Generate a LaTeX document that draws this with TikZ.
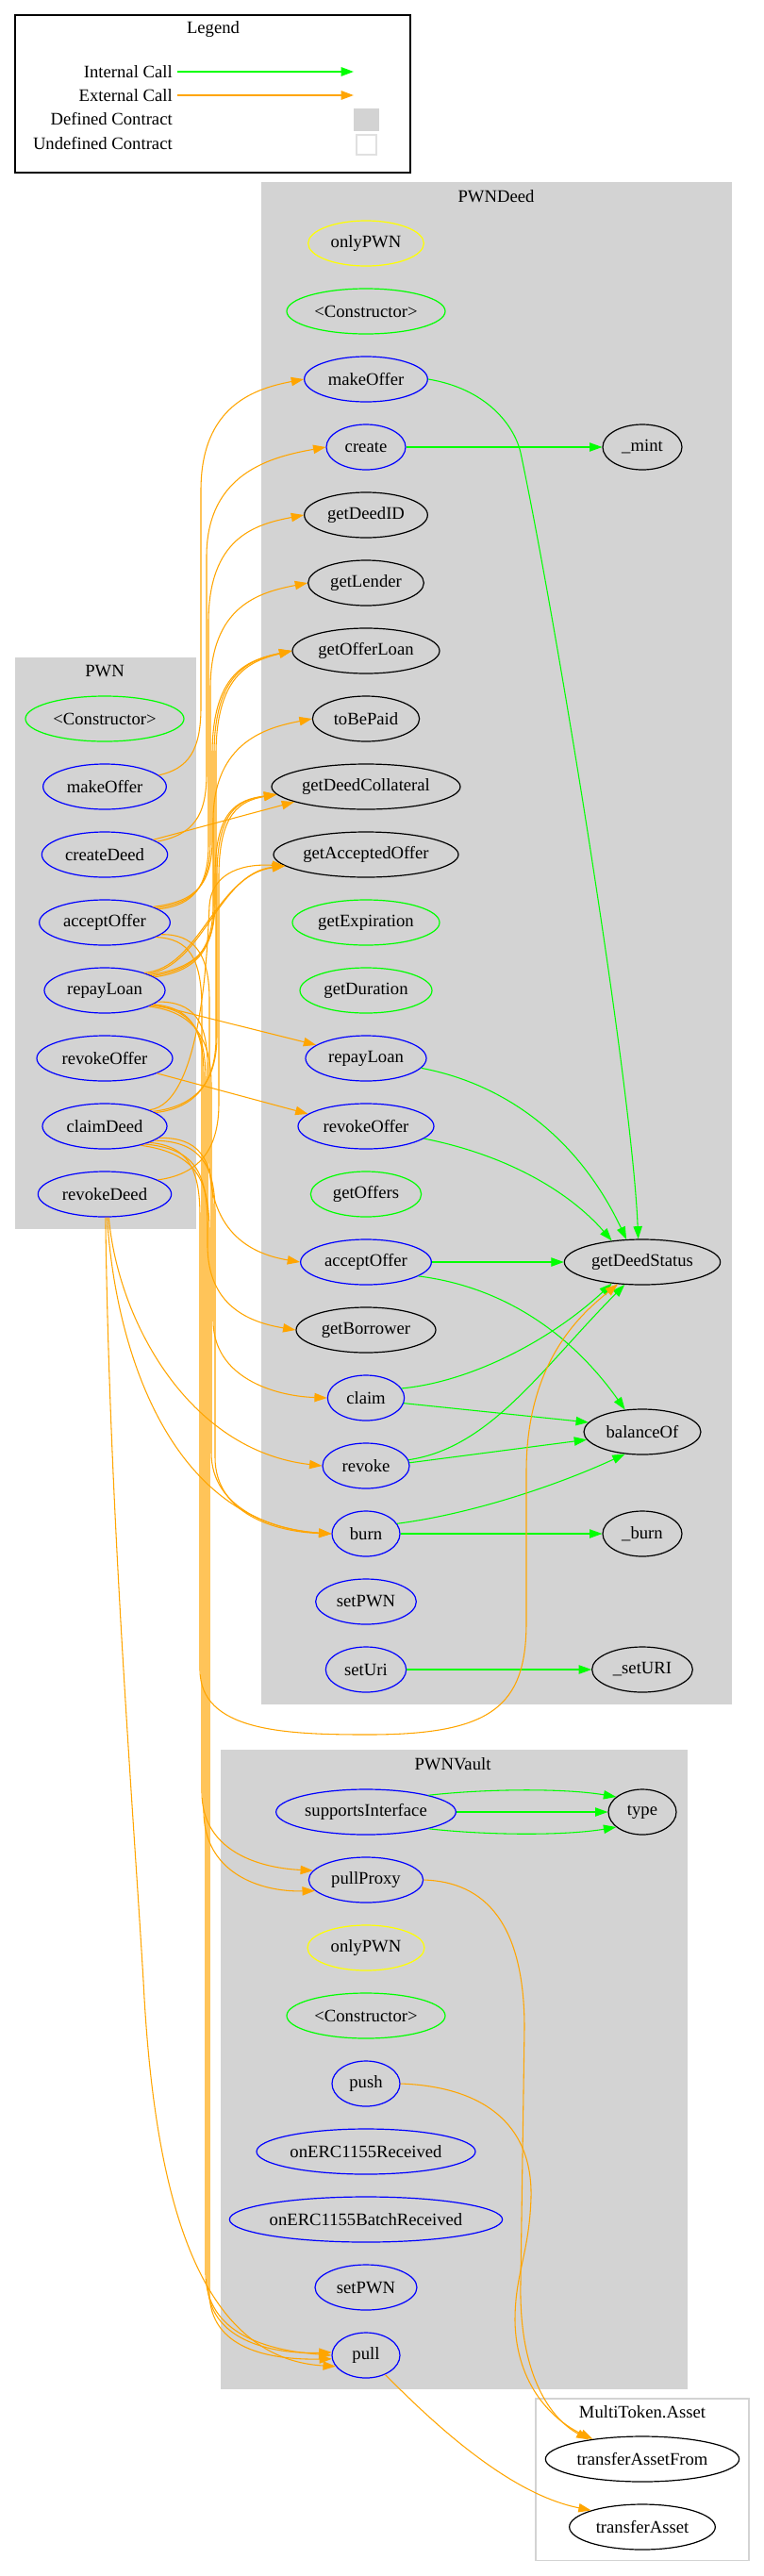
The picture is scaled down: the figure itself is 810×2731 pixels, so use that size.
\documentclass[tikz,border=0pt]{standalone}
\usepackage{fontspec}
\setmainfont{Liberation Serif}
\usepackage{tikz}
\usetikzlibrary{shapes.geometric,arrows.meta}
\definecolor{callgreen}{HTML}{00FF00}
\definecolor{callorange}{HTML}{FFA500}
\definecolor{fnblue}{HTML}{0000FF}
\definecolor{modyellow}{HTML}{FFFF00}
\definecolor{clustergray}{HTML}{D3D3D3}

\begin{document}
\begin{tikzpicture}[x=0.75pt, y=-0.75pt,
  fn/.style={ellipse, draw=#1, line width=0.9pt, minimum height=36pt, inner sep=0pt, font=\fontsize{14}{16}\selectfont},
  lbl/.style={font=\fontsize{14}{16}\selectfont, inner sep=0pt},
  intcall/.style={-{Triangle[length=10pt,width=7pt]}, draw=callgreen, line width=0.8pt},
  extcall/.style={-{Triangle[length=10pt,width=7pt]}, draw=callorange, line width=0.8pt}]
  \useasboundingbox (0,0) rectangle (810,2731);

  % legend
  \draw[line width=1pt] (16,16) rectangle (435,183);
  \node[lbl] (lgTitle) at (226,31) {Legend};
  \node[lbl, anchor=east] (lgInt) at (183,76) {Internal Call};
  \node[lbl, anchor=east] (lgExt) at (183,101) {External Call};
  \node[lbl, anchor=east] (lgDef) at (183,126) {Defined Contract};
  \node[lbl, anchor=east] (lgUndef) at (183,152) {Undefined Contract};
  \coordinate (lgIntEnd) at (375,76);
  \coordinate (lgExtEnd) at (375,101);
  \draw[intcall, line width=1.5pt] ([xshift=4pt]lgInt.east) -- (lgIntEnd);
  \draw[extcall, line width=1.5pt] ([xshift=4pt]lgExt.east) -- (lgExtEnd);
  \fill[clustergray] (375,115) rectangle (402,139);
  \draw[clustergray!70, line width=1pt] (378,143) rectangle (399,164);

  % clusters
  \filldraw[fill=clustergray, draw=clustergray] (277,193) rectangle (775,1806);
  \filldraw[fill=clustergray, draw=clustergray] (16,697) rectangle (207,1302);
  \filldraw[fill=clustergray, draw=clustergray] (234,1855) rectangle (728,2532);
  \draw[clustergray, line width=0.8pt] (568,2543) rectangle (794,2714);
  \node[lbl] (tDeed) at (526,208) {PWNDeed};
  \node[lbl] (tPWN) at (111,712) {PWN};
  \node[lbl] (tVault) at (480,1870) {PWNVault};
  \node[lbl] (tAsset) at (681,2557) {MultiToken.Asset};

  % PWN
  \node[fn=callgreen, minimum width=126pt] (pCtor) at (111,762) {\textless Constructor\textgreater};
  \node[fn=fnblue, minimum width=98pt] (pMake) at (111,834) {makeOffer};
  \node[fn=fnblue, minimum width=100pt] (pCreate) at (111,906) {createDeed};
  \node[fn=fnblue, minimum width=104pt] (pAccept) at (111,978) {acceptOffer};
  \node[fn=fnblue, minimum width=96pt] (pRepay) at (111,1050) {repayLoan};
  \node[fn=fnblue, minimum width=108pt] (pRevOffer) at (111,1122) {revokeOffer};
  \node[fn=fnblue, minimum width=99pt] (pClaim) at (111,1194) {claimDeed};
  \node[fn=fnblue, minimum width=106pt] (pRevDeed) at (111,1266) {revokeDeed};

  % PWNDeed
  \node[fn=modyellow, minimum width=92pt] (dOnly) at (388,258) {onlyPWN};
  \node[fn=callgreen, minimum width=126pt] (dCtor) at (388,330) {\textless Constructor\textgreater};
  \node[fn=fnblue, minimum width=98pt] (dMake) at (388,402) {makeOffer};
  \node[fn=fnblue, minimum width=63pt] (dCreate) at (388,474) {create};
  \node[fn=black, minimum width=98pt] (dDeedID) at (388,546) {getDeedID};
  \node[fn=black, minimum width=92pt] (dLender) at (388,618) {getLender};
  \node[fn=black, minimum width=117pt] (dOfferLoan) at (388,690) {getOfferLoan};
  \node[fn=black, minimum width=85pt] (dToBePaid) at (388,762) {toBePaid};
  \node[fn=black, minimum width=150pt] (dCollat) at (388,834) {getDeedCollateral};
  \node[fn=black, minimum width=147pt] (dAccepted) at (388,906) {getAcceptedOffer};
  \node[fn=callgreen, minimum width=117pt] (dExpiration) at (388,978) {getExpiration};
  \node[fn=callgreen, minimum width=105pt] (dDuration) at (388,1050) {getDuration};
  \node[fn=fnblue, minimum width=96pt] (dRepay) at (388,1122) {repayLoan};
  \node[fn=fnblue, minimum width=108pt] (dRevOffer) at (388,1194) {revokeOffer};
  \node[fn=callgreen, minimum width=88pt] (dOffers) at (388,1266) {getOffers};
  \node[fn=fnblue, minimum width=104pt] (dAccept) at (388,1338) {acceptOffer};
  \node[fn=black, minimum width=111pt] (dBorrower) at (388,1410) {getBorrower};
  \node[fn=fnblue, minimum width=61pt] (dClaim) at (388,1482) {claim};
  \node[fn=fnblue, minimum width=69pt] (dRevoke) at (388,1554) {revoke};
  \node[fn=fnblue, minimum width=54pt] (dBurn) at (388,1626) {burn};
  \node[fn=fnblue, minimum width=80pt] (dSetPWN) at (388,1698) {setPWN};
  \node[fn=fnblue, minimum width=64pt] (dSetUri) at (388,1770) {setUri};
  \node[fn=black, minimum width=63pt] (dMint) at (681,474) {\_mint};
  \node[fn=black, minimum width=124pt] (dStatus) at (681,1338) {getDeedStatus};
  \node[fn=black, minimum width=93pt] (dBalance) at (681,1518) {balanceOf};
  \node[fn=black, minimum width=63pt] (dBurnInt) at (681,1626) {\_burn};
  \node[fn=black, minimum width=80pt] (dSetURIInt) at (681,1770) {\_setURI};

  % PWNVault
  \node[fn=fnblue, minimum width=143pt] (vSupports) at (388,1921) {supportsInterface};
  \node[fn=black, minimum width=54pt] (vType) at (681,1921) {type};
  \node[fn=fnblue, minimum width=91pt] (vPullProxy) at (388,1993) {pullProxy};
  \node[fn=modyellow, minimum width=93pt] (vOnly) at (388,2065) {onlyPWN};
  \node[fn=callgreen, minimum width=126pt] (vCtor) at (388,2137) {\textless Constructor\textgreater};
  \node[fn=fnblue, minimum width=54pt] (vPush) at (388,2209) {push};
  \node[fn=fnblue, minimum width=174pt] (vRecv) at (388,2281) {onERC1155Received};
  \node[fn=fnblue, minimum width=215pt] (vBatch) at (388,2353) {onERC1155BatchReceived};
  \node[fn=fnblue, minimum width=81pt] (vSetPWN) at (388,2425) {setPWN};
  \node[fn=fnblue, minimum width=54pt] (vPull) at (388,2497) {pull};

  % MultiToken.Asset
  \node[fn=black, minimum width=154pt] (mFrom) at (681,2607) {transferAssetFrom};
  \node[fn=black, minimum width=116pt] (mTransfer) at (681,2679) {transferAsset};

  % internal calls
  \draw[intcall] (dMake.east) .. controls (515,412) and (545,450) .. (552,480) .. controls (590,660) and (670,1150) .. (dStatus.100);
  \draw[intcall] (dCreate) -- (dMint);
  \draw[intcall] (dRepay.-10) .. controls (540,1150) and (615,1210) .. (dStatus.125);
  \draw[intcall] (dRevOffer.-12) .. controls (540,1225) and (605,1265) .. (dStatus.145);
  \draw[intcall] (dAccept) -- (dStatus);
  \draw[intcall] (dAccept.-15) .. controls (540,1365) and (610,1420) .. (dBalance.128);
  \draw[intcall] (dClaim.15) .. controls (500,1465) and (585,1420) .. (dStatus.215);
  \draw[intcall] (dClaim.-8) -- (dBalance.170);
  \draw[intcall] (dRevoke.8) .. controls (520,1535) and (575,1450) .. (dStatus.232);
  \draw[intcall] (dRevoke.4) -- (dBalance.188);
  \draw[intcall] (dBurn.18) .. controls (500,1605) and (590,1575) .. (dBalance.232);
  \draw[intcall] (dBurn) -- (dBurnInt);
  \draw[intcall] (dSetUri) -- (dSetURIInt);
  \draw[intcall] (vSupports.15) .. controls (520,1896) and (600,1896) .. (vType.150);
  \draw[intcall] (vSupports) -- (vType);
  \draw[intcall] (vSupports.-15) .. controls (520,1946) and (600,1946) .. (vType.-150);

  % external calls, going up
  \draw[extcall] (pMake.12) .. controls (200,815) and (213,795) .. (213,750) -- (213,520) .. controls (213,430) and (270,412) .. (dMake.west);
  \draw[extcall] (pCreate.14) .. controls (205,885) and (219,865) .. (219,820) -- (219,590) .. controls (219,500) and (290,484) .. (dCreate.west);
  \draw[extcall] (pCreate.17) -- (dCollat.192);
  \draw[extcall] (pAccept.14) .. controls (205,960) and (221,940) .. (221,895) -- (221,660) .. controls (221,570) and (270,556) .. (dDeedID.west);
  \draw[extcall] (pAccept.16) .. controls (207,958) and (223,938) .. (223,893) -- (223,730) .. controls (223,642) and (275,628) .. (dLender.west);
  \draw[extcall] (pAccept.18) .. controls (209,956) and (225,936) .. (225,890) -- (225,800) .. controls (225,715) and (260,700) .. (dOfferLoan.west);
  \draw[extcall] (pRepay.15) .. controls (205,1030) and (227,1010) .. (227,960) -- (227,800) .. controls (227,715) and (262,700) .. (dOfferLoan.west);
  \draw[extcall] (pClaim.15) .. controls (205,1175) and (229,1150) .. (229,1100) -- (229,800) .. controls (229,716) and (264,701) .. (dOfferLoan.west);
  \draw[extcall] (pRepay.17) .. controls (207,1028) and (226,1008) .. (226,958) -- (226,870) .. controls (226,785) and (285,771) .. (dToBePaid.west);
  \draw[extcall] (pRepay.19) .. controls (209,1026) and (228,1006) .. (228,956) -- (228,930) .. controls (228,860) and (250,848) .. (dCollat.185);
  \draw[extcall] (pClaim.17) .. controls (207,1173) and (230,1148) .. (230,1098) -- (230,930) .. controls (230,860) and (252,848) .. (dCollat.185);
  \draw[extcall] (pRevDeed.15) .. controls (210,1245) and (232,1220) .. (232,1170) -- (232,930) .. controls (232,862) and (254,849) .. (dCollat.185);
  \draw[extcall] (pRepay.21) .. controls (215,1025) and (232,925) .. (dAccepted.188);
  \draw[extcall] (pRepay.24) .. controls (212,1027) and (228,928) .. (dAccepted.188);
  \draw[extcall] (pClaim.20) .. controls (215,1170) and (220,1000) .. (222,960) .. controls (224,930) and (250,915) .. (dAccepted.188);

  % external calls, straight across
  \draw[extcall] (pRepay.-16) -- (dRepay.165);
  \draw[extcall] (pRevOffer.-16) -- (dRevOffer.168);

  % external calls, going down
  \draw[extcall] (pAccept.-12) .. controls (205,990) and (222,1010) .. (222,1060) -- (222,1230) .. controls (222,1310) and (270,1330) .. (dAccept.west);
  \draw[extcall] (pAccept.-16) .. controls (200,995) and (214,1015) .. (214,1070) -- (214,1900) .. controls (214,1960) and (270,1980) .. (vPullProxy.170);
  \draw[extcall] (pRepay.-16) .. controls (200,1068) and (216,1088) .. (216,1140) -- (216,1920) .. controls (216,1985) and (275,2006) .. (vPullProxy.192);
  \draw[extcall] (pRepay.-12) .. controls (205,1062) and (220,1082) .. (220,1130) -- (220,1320) .. controls (220,1385) and (265,1402) .. (dBorrower.west);
  \draw[extcall] (pRepay.-20) .. controls (200,1072) and (224,1095) .. (224,1150) -- (224,1540) .. controls (224,1600) and (290,1622) .. (dBurn.west);
  \draw[extcall] (pRepay.-18) .. controls (202,1070) and (218,1090) .. (218,1145) -- (218,2410) .. controls (218,2475) and (285,2492) .. (vPull.west);
  \draw[extcall] (pClaim.-12) .. controls (210,1206) and (226,1226) .. (226,1280) -- (226,1400) .. controls (226,1460) and (290,1480) .. (dClaim.west);
  \draw[extcall] (pClaim.-16) .. controls (208,1210) and (228,1230) .. (228,1285) -- (228,1545) .. controls (228,1605) and (292,1624) .. (dBurn.west);
  \draw[extcall] (pClaim.-20) .. controls (200,1215) and (212,1240) .. (212,1290) -- (212,1770) .. controls (212,1835) and (300,1839) .. (390,1839) .. controls (520,1839) and (558,1810) .. (558,1720) -- (558,1560) .. controls (558,1440) and (620,1390) .. (dStatus.222);
  \draw[extcall] (pClaim.-24) .. controls (205,1218) and (220,1240) .. (220,1300) -- (220,2420) .. controls (220,2480) and (285,2496) .. (vPull.175);
  \draw[extcall] (pClaim.-28) .. controls (203,1222) and (222,1245) .. (222,1305) -- (222,2430) .. controls (222,2490) and (285,2502) .. (vPull.186);
  \draw[extcall] (pRevDeed.-80) .. controls (125,1400) and (200,1538) .. (dRevoke.west);
  \draw[extcall] (pRevDeed.-84) .. controls (122,1430) and (180,1615) .. (dBurn.west);
  \draw[extcall] (pRevDeed.-88) .. controls (116,1600) and (140,1900) .. (152,2100) .. controls (162,2300) and (200,2500) .. (vPull.200);

  % vault to asset library
  \draw[extcall] (vPullProxy.east) .. controls (515,1995) and (556,2040) .. (556,2150) -- (552,2420) .. controls (550,2520) and (585,2565) .. (mFrom.160);
  \draw[extcall] (vPush.east) .. controls (510,2212) and (565,2250) .. (563,2330) .. controls (561,2390) and (546,2410) .. (546,2460) .. controls (547,2530) and (588,2567) .. (mFrom.158);
  \draw[extcall] (vPull.-45) .. controls (470,2580) and (545,2645) .. (mTransfer.162);
\end{tikzpicture}
\end{document}
